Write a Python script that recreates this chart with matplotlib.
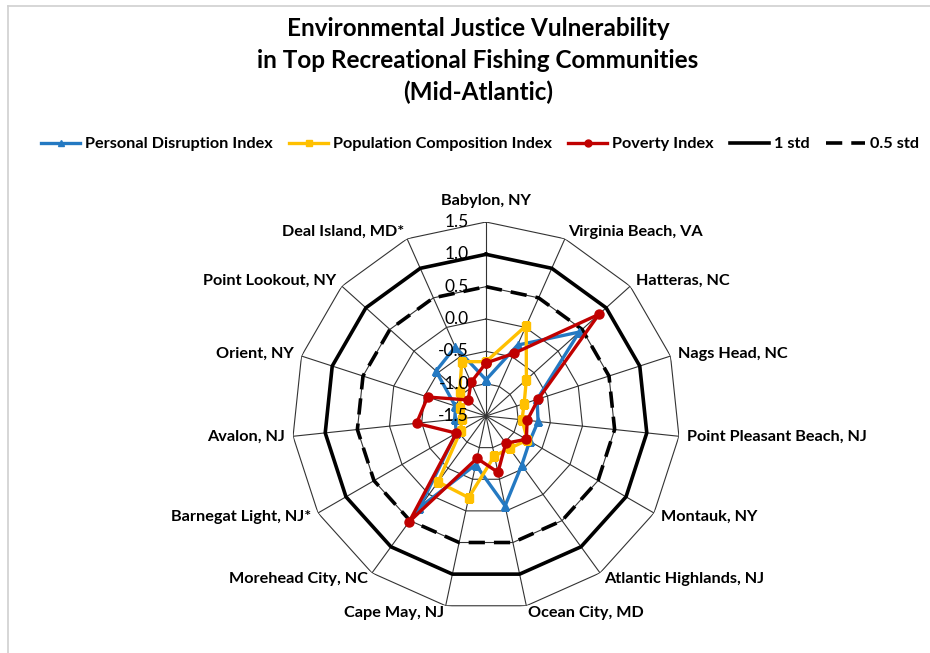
import numpy as np
import matplotlib
matplotlib.use("Agg")
import matplotlib.pyplot as plt
from matplotlib.lines import Line2D

plt.rcParams['font.family'] = ['Lato', 'DejaVu Sans']

categories = ["Babylon, NY", "Virginia Beach, VA", "Hatteras, NC", "Nags Head, NC",
              "Point Pleasant Beach, NJ", "Montauk, NY", "Atlantic Highlands, NJ",
              "Ocean City, MD", "Cape May, NJ", "Morehead City, NC", "Barnegat Light, NJ*",
              "Avalon, NJ", "Orient, NY", "Point Lookout, NY", "Deal Island, MD*"]
personal_disruption = [-0.94, -0.30, 0.44, -0.67, -0.69, -0.72, -0.56, -0.08, -0.73,
                       0.25, -0.97, -1.02, -1.00, -0.46, -0.33]
population_composition = [-0.66, 0.03, -0.66, -0.88, -0.94, -0.76, -0.88, -0.87, -0.21,
                          -0.24, -1.05, -1.12, -1.08, -0.95, -0.58]
poverty = [-0.68, -0.44, 0.85, -0.65, -0.86, -0.78, -0.98, -0.61, -0.83,
           0.52, -0.97, -0.42, -0.55, -1.13, -0.93]
one_std = [1.0] * len(categories)
half_std = [0.5] * len(categories)
ring_values = [-1.0, -0.5, 0.0, 0.5, 1.0, 1.5]
tick_values = [1.5, 1.0, 0.5, 0.0, -0.5, -1.0, -1.5]
tick_labels = ["1.5", "1.0", "0.5", "0.0", "-0.5", "-1.0", "-1.5"]
r_min, r_max = -1.5, 1.5

BLUE = "#2479C2"
YELLOW = "#FFC000"
RED = "#C00000"

n = len(categories)
theta = np.arange(n) * 2 * np.pi / n
theta_c = np.append(theta, theta[0])

def closed(v):
    return list(v) + [v[0]]

fig = plt.figure(figsize=(9.30, 6.53), dpi=100)

# figure border (chart area frame)
fig.add_artist(Line2D([8/930, 1.0], [1 - 6/653, 1 - 6/653], color="#D0D0D0", lw=1.2,
                      transform=fig.transFigure))
fig.add_artist(Line2D([8/930, 8/930], [0.0, 1 - 6/653], color="#D0D0D0", lw=1.2,
                      transform=fig.transFigure))

cx, cy, R = 486, 416, 194
ax = fig.add_axes([(cx - R) / 930, 1 - (cy + R) / 653, 2 * R / 930, 2 * R / 653],
                  projection='polar')
ax.set_theta_zero_location('N')
ax.set_theta_direction(-1)
ax.set_ylim(r_min, r_max)
ax.grid(False)
ax.spines['polar'].set_visible(False)
ax.set_xticks([])
ax.set_yticks([])
ax.patch.set_alpha(0)

# polygon grid rings and spokes
for rv in ring_values:
    ax.plot(theta_c, [rv] * (n + 1), color="#333333", lw=0.8, zorder=1)
for t in theta:
    ax.plot([t, t], [r_min, r_max], color="#333333", lw=0.8, zorder=1)

# std reference lines
ax.plot(theta_c, closed(one_std), color="black", lw=2.6, zorder=2)
ax.plot(theta_c, closed(half_std), color="black", lw=2.6, ls=(0, (4.5, 2.5)), zorder=2)

# series
ax.plot(theta_c, closed(personal_disruption), color=BLUE, lw=2.4, marker='^',
        markersize=6, zorder=3)
ax.plot(theta_c, closed(population_composition), color=YELLOW, lw=2.4, marker='s',
        markersize=6, zorder=4)
ax.plot(theta_c, closed(poverty), color=RED, lw=2.4, marker='o',
        markersize=6.5, zorder=5)

# radial tick labels along top spoke
for v, lab in zip(tick_values, tick_labels):
    x_px = cx - 17
    y_px = cy - (v - r_min) / (r_max - r_min) * R
    fig.text(x_px / 930, 1 - y_px / 653, lab, ha='right', va='center',
             fontsize=12.5, color='black', zorder=10)

# category labels
CAT_FS = 11.7
for t, lab in zip(theta, categories):
    s, c = np.sin(t), np.cos(t)
    if abs(s) < 0.1:
        if c > 0:
            ax.text(t, 1.72, lab, ha='center', va='bottom', fontsize=CAT_FS, fontweight='bold')
        else:
            ax.text(t, 1.62, lab, ha='center', va='top', fontsize=CAT_FS, fontweight='bold')
        continue
    ha = 'left' if s > 0 else 'right'
    ax.text(t, 1.62, lab, ha=ha, va='center', fontsize=CAT_FS, fontweight='bold')

# title
TITLE_FS = 17.5
tx = 478 / 930
fig.text(tx, 1 - 28/653, "Environmental Justice Vulnerability", ha='center', va='center',
         fontsize=TITLE_FS, fontweight='bold')
fig.text(tx, 1 - 60/653, "in Top Recreational Fishing Communities", ha='center', va='center',
         fontsize=TITLE_FS, fontweight='bold')
fig.text(tx, 1 - 92/653, "(Mid-Atlantic)", ha='center', va='center',
         fontsize=TITLE_FS, fontweight='bold')

# legend
handles = [
    Line2D([], [], color=BLUE, lw=2.4, marker='^', markersize=5),
    Line2D([], [], color=YELLOW, lw=2.4, marker='s', markersize=5),
    Line2D([], [], color=RED, lw=2.4, marker='o', markersize=5),
    Line2D([], [], color='black', lw=2.6),
    Line2D([], [], color='black', lw=2.6, ls=(0, (4.5, 2.5))),
]
labels = ["Personal Disruption Index", "Population Composition Index", "Poverty Index",
          "1 std", "0.5 std"]
fig.legend(handles, labels, loc='center', bbox_to_anchor=(480/930, 1 - 144/653), ncol=5,
           frameon=False, prop={'weight': 'bold', 'size': 11.7}, handlelength=2.4,
           handletextpad=0.3, columnspacing=1.0)

fig.savefig("out.png", dpi=100)
